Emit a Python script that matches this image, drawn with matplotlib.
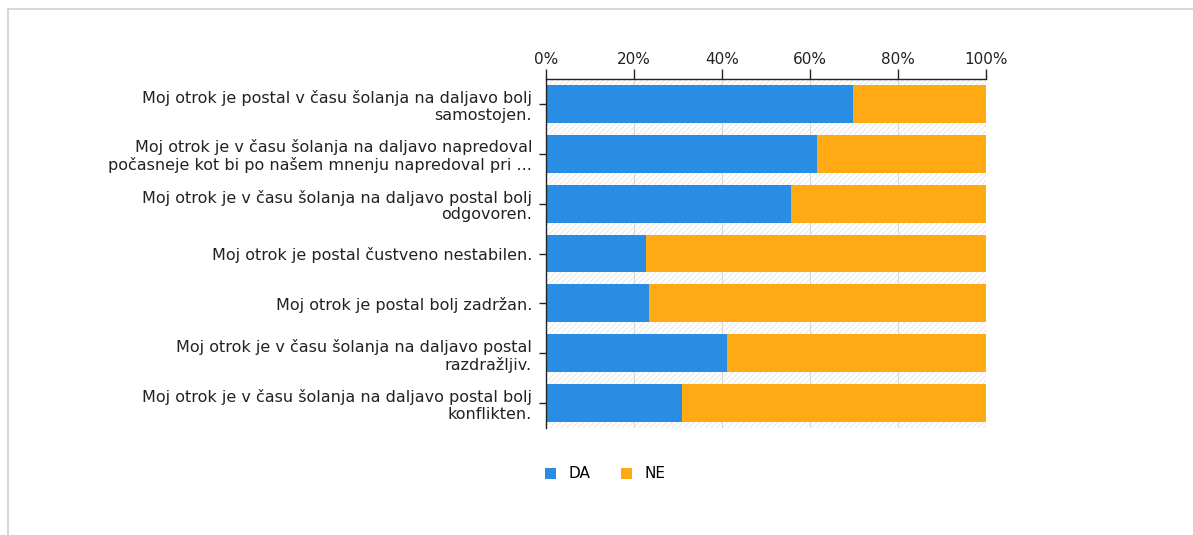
import matplotlib
matplotlib.use("Agg")
import matplotlib.pyplot as plt
from matplotlib.patches import Rectangle
from matplotlib.lines import Line2D

categories = [
    "Moj otrok je postal v času šolanja na daljavo bolj\nsamostojen.",
    "Moj otrok je v času šolanja na daljavo napredoval\npočasneje kot bi po našem mnenju napredoval pri ...",
    "Moj otrok je v času šolanja na daljavo postal bolj\nodgovoren.",
    "Moj otrok je postal čustveno nestabilen.",
    "Moj otrok je postal bolj zadržan.",
    "Moj otrok je v času šolanja na daljavo postal\nrazdražljiv.",
    "Moj otrok je v času šolanja na daljavo postal bolj\nkonflikten.",
]
da = [69.8, 61.6, 55.7, 22.7, 23.4, 41.1, 30.9]
ne = [100 - v for v in da]
series_names = ["DA", "NE"]
xticks = [0, 20, 40, 60, 80, 100]
xticklabels = ["0%", "20%", "40%", "60%", "80%", "100%"]

BLUE = "#2a8de4"
ORANGE = "#ffa915"

plt.rcParams["font.family"] = ["DejaVu Sans"]
plt.rcParams["hatch.linewidth"] = 0.6

W, H = 1193, 535
fig = plt.figure(figsize=(W / 100, H / 100), dpi=100)
fig.patch.set_facecolor("white")

# outer border lines (top and left)
fig.add_artist(Line2D([8 / W, 1], [1 - 9 / H, 1 - 9 / H], color="#d0d0d0", lw=1.2))
fig.add_artist(Line2D([8 / W, 8 / W], [0, 1 - 9 / H], color="#d0d0d0", lw=1.2))

left, right, top, bottom = 546, 986, 79, 428
ax = fig.add_axes([left / W, 1 - bottom / H, (right - left) / W, (bottom - top) / H])

n = len(categories)
ypos = list(range(n))
ax.set_xlim(0, 100)
ax.set_ylim(n - 0.5, -0.5)

ax.add_patch(Rectangle((0, -0.5), 100, n, facecolor="white", edgecolor="#e3e3e3",
                       hatch="//////", lw=0, zorder=0))
for x in xticks[1:]:
    ax.axvline(x, color="#d8d8d8", lw=0.8, zorder=0.5)

ax.barh(ypos, da, height=0.76, color=BLUE, label=series_names[0], zorder=2)
ax.barh(ypos, ne, left=da, height=0.76, color=ORANGE, label=series_names[1], zorder=2)

ax.xaxis.tick_top()
ax.set_xticks(xticks)
ax.set_xticklabels(xticklabels, fontsize=11, color="#222222")
ax.tick_params(axis="x", direction="out", length=7, width=1, color="#222222", pad=2)
ax.set_yticks(ypos)
ax.set_yticklabels(categories, fontsize=11.5, color="#222222", linespacing=1.15)
ax.tick_params(axis="y", direction="out", length=5, width=1, color="#222222", pad=5)

for s in ["right", "bottom"]:
    ax.spines[s].set_visible(False)
for s in ["top", "left"]:
    ax.spines[s].set_color("#222222")
    ax.spines[s].set_linewidth(1)

leg = fig.legend(handles=ax.get_legend_handles_labels()[0], labels=series_names,
                 loc="center", bbox_to_anchor=(605 / W, 1 - 474 / H), ncol=2,
                 frameon=False, fontsize=11, handlelength=0.75, handleheight=0.75,
                 columnspacing=2.0, handletextpad=0.8)

fig.savefig("out.png", dpi=100, facecolor="white")
